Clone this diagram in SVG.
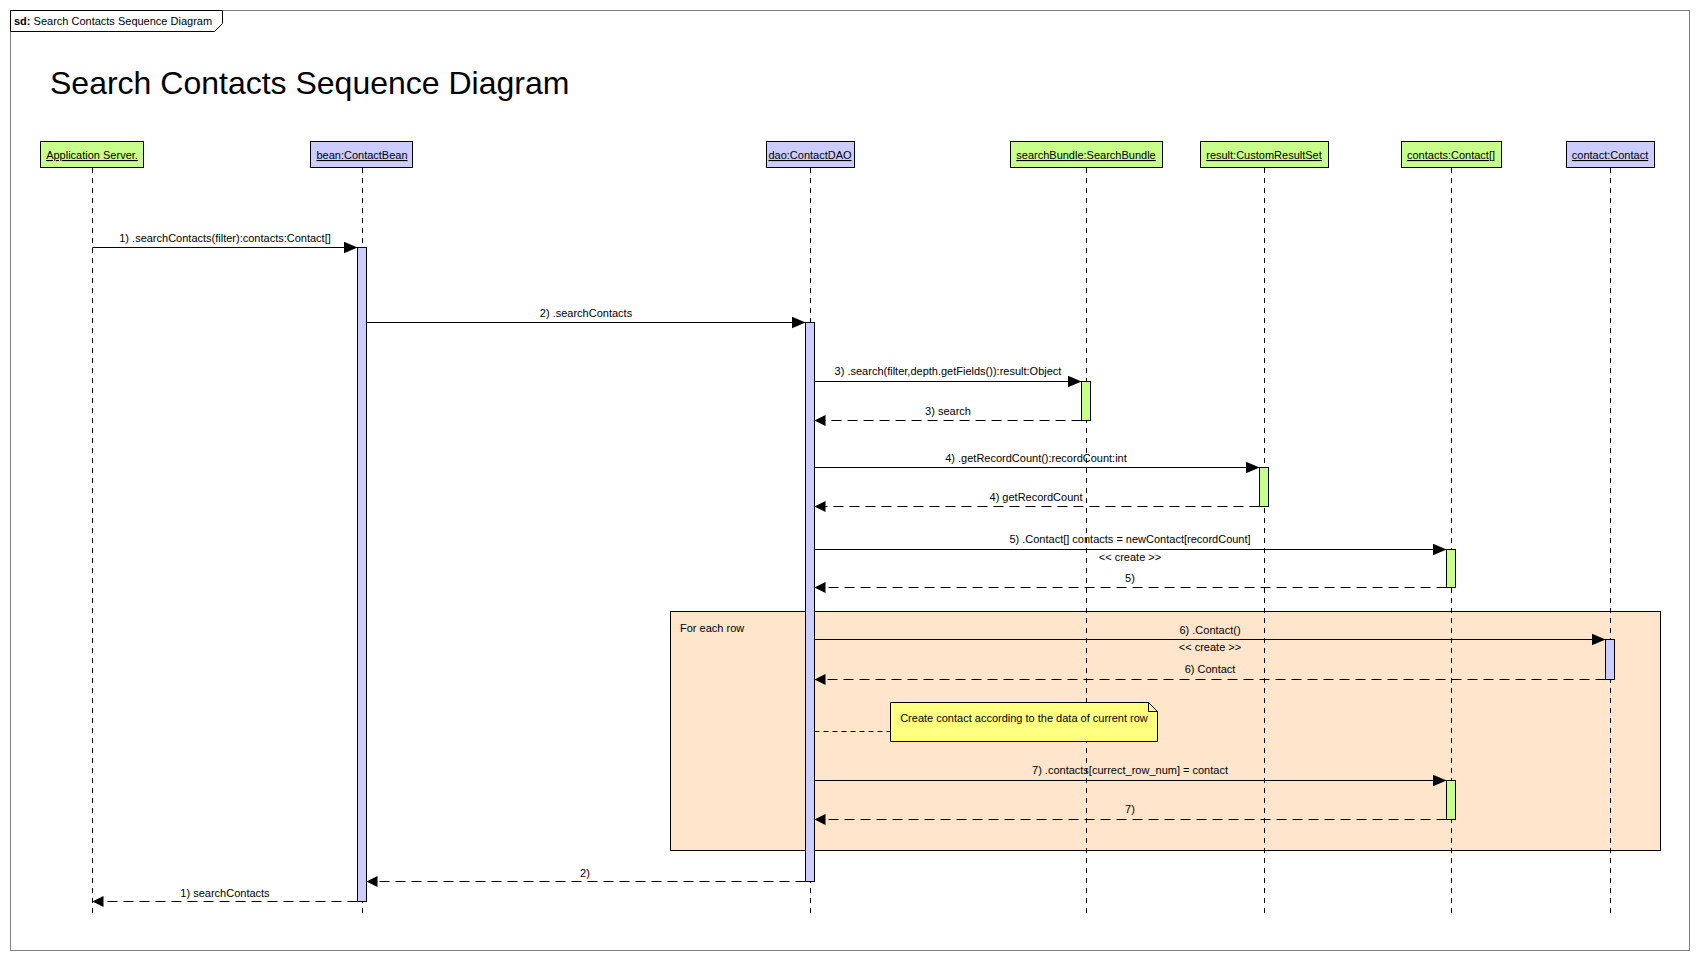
<svg xmlns="http://www.w3.org/2000/svg" width="1701" height="961" viewBox="0 0 1701 961">
  <style>
    text { font-family: "Liberation Sans", Arial, sans-serif; font-size: 11px; fill: #000; }
    .title { font-size: 32px; }
    .lbl { text-anchor: middle; }
    .pname { text-anchor: middle; text-decoration: underline; }
    .part-green { fill: #C8FF8C; stroke: #000; stroke-width: 1; }
    .part-blue { fill: #CCCCFF; stroke: #000; stroke-width: 1; }
    .life { stroke: #000; stroke-width: 1; stroke-dasharray: 5 5; fill: none; }
    .act-blue { fill: #CCCCFF; stroke: #000; stroke-width: 1; }
    .act-green { fill: #C8FF8C; stroke: #000; stroke-width: 1; }
    .call { stroke: #000; stroke-width: 1; fill: none; marker-end: url(#callHead); }
    .ret { stroke: #000; stroke-width: 1; fill: none; stroke-dasharray: 10 6; marker-end: url(#retHead); }
    .anchor { stroke: #000; stroke-width: 1; stroke-dasharray: 5 4; fill: none; }
  </style>
  <defs>
    <marker id="callHead" markerWidth="14" markerHeight="12" refX="14" refY="6" orient="auto" markerUnits="userSpaceOnUse">
      <path d="M0,0 L14,6 L0,12 Z" fill="#000"/>
    </marker>
    <marker id="retHead" markerWidth="11" markerHeight="11" refX="11" refY="5.5" orient="auto" markerUnits="userSpaceOnUse">
      <path d="M0,0 L11,5.5 L0,11 Z" fill="#000"/>
    </marker>
  </defs>

  <!-- background and sd frame -->
  <rect x="0" y="0" width="1701" height="961" fill="#fff"/>
  <rect x="10.5" y="10.5" width="1679" height="940" fill="#fff" stroke="#808080" stroke-width="1"/>
  <g id="frame-tab">
    <polygon points="10.5,10.5 222.5,10.5 222.5,23.5 214.5,31.5 10.5,31.5" fill="#fff" stroke="#000" stroke-width="1"/>
    <text x="14" y="25"><tspan font-weight="bold">sd:</tspan> Search Contacts Sequence Diagram</text>
  </g>
  <text class="title" x="50" y="94">Search Contacts Sequence Diagram</text>

  <!-- loop fragment -->
  <g id="loop-each-row">
    <rect x="670.5" y="611.5" width="990" height="239" fill="#FFE5CC" stroke="#000" stroke-width="1"/>
    <text x="680" y="632">For each row</text>
  </g>

  <!-- lifelines -->
  <g id="lifelines">
    <line class="life" x1="92.5" y1="168" x2="92.5" y2="918"/>
    <line class="life" x1="362.5" y1="168" x2="362.5" y2="918"/>
    <line class="life" x1="810.5" y1="168" x2="810.5" y2="918"/>
    <line class="life" x1="1086.5" y1="168" x2="1086.5" y2="918"/>
    <line class="life" x1="1264.5" y1="168" x2="1264.5" y2="918"/>
    <line class="life" x1="1451.5" y1="168" x2="1451.5" y2="918"/>
    <line class="life" x1="1610.5" y1="168" x2="1610.5" y2="918"/>
  </g>

  <!-- note -->
  <g id="note-create-contact">
    <path d="M890.5,702.5 L1148.5,702.5 L1157.5,711.5 L1157.5,741.5 L890.5,741.5 Z" fill="#FFFF80" stroke="#000" stroke-width="1"/>
    <path d="M1148.5,702.5 L1148.5,711.5 L1157.5,711.5" fill="none" stroke="#000" stroke-width="1"/>
    <text x="1024" y="722" class="lbl">Create contact according to the data of current row</text>
  </g>

  <!-- messages -->
  <g id="connectors">
    <line class="call" x1="92.5" y1="247.5" x2="357.5" y2="247.5"/>
    <text class="lbl" x="225" y="242">1) .searchContacts(filter):contacts:Contact[]</text>

    <line class="call" x1="366.5" y1="322.5" x2="805.5" y2="322.5"/>
    <text class="lbl" x="586" y="317">2) .searchContacts</text>

    <line class="call" x1="814.5" y1="381.5" x2="1081.5" y2="381.5"/>
    <text class="lbl" x="948" y="375">3) .search(filter,depth.getFields()):result:Object</text>

    <line class="ret" x1="1081.5" y1="420.5" x2="814.5" y2="420.5"/>
    <text class="lbl" x="948" y="415">3) search</text>

    <line class="call" x1="814.5" y1="467.5" x2="1259.5" y2="467.5"/>
    <text class="lbl" x="1036" y="462">4) .getRecordCount():recordCount:int</text>

    <line class="ret" x1="1259.5" y1="506.5" x2="814.5" y2="506.5"/>
    <text class="lbl" x="1036" y="501">4) getRecordCount</text>

    <line class="call" x1="814.5" y1="549.5" x2="1446.5" y2="549.5"/>
    <text class="lbl" x="1130" y="543">5) .Contact[] contacts = newContact[recordCount]</text>
    <text class="lbl" x="1130" y="561">&lt;&lt; create &gt;&gt;</text>

    <line class="ret" x1="1446.5" y1="587.5" x2="814.5" y2="587.5"/>
    <text class="lbl" x="1130" y="582">5)</text>

    <line class="call" x1="814.5" y1="639.5" x2="1605.5" y2="639.5"/>
    <text class="lbl" x="1210" y="634">6) .Contact()</text>
    <text class="lbl" x="1210" y="651">&lt;&lt; create &gt;&gt;</text>

    <line class="ret" x1="1605.5" y1="679.5" x2="814.5" y2="679.5"/>
    <text class="lbl" x="1210" y="673">6) Contact</text>

    <line class="anchor" x1="814.5" y1="731.5" x2="890.5" y2="731.5"/>

    <line class="call" x1="814.5" y1="780.5" x2="1446.5" y2="780.5"/>
    <text class="lbl" x="1130" y="774">7) .contacts[currect_row_num] = contact</text>

    <line class="ret" x1="1446.5" y1="819.5" x2="814.5" y2="819.5"/>
    <text class="lbl" x="1130" y="813">7)</text>

    <line class="ret" x1="805.5" y1="881.5" x2="366.5" y2="881.5"/>
    <text class="lbl" x="585" y="877">2)</text>

    <line class="ret" x1="357.5" y1="901.5" x2="92.5" y2="901.5"/>
    <text class="lbl" x="225" y="897">1) searchContacts</text>
  </g>

  <!-- activations -->
  <g id="activations">
    <rect class="act-blue" x="357.5" y="247.5" width="9" height="654"/>
    <rect class="act-blue" x="805.5" y="322.5" width="9" height="559"/>
    <rect class="act-green" x="1081.5" y="381.5" width="9" height="39"/>
    <rect class="act-green" x="1259.5" y="467.5" width="9" height="39"/>
    <rect class="act-green" x="1446.5" y="549.5" width="9" height="38"/>
    <rect class="act-blue" x="1605.5" y="639.5" width="9" height="40"/>
    <rect class="act-green" x="1446.5" y="780.5" width="9" height="39"/>
  </g>

  <!-- participants -->
  <g id="app-server">
    <rect class="part-green" x="40.5" y="141.5" width="103" height="26"/>
    <text class="pname" x="92" y="159">Application Server.</text>
  </g>
  <g id="bean">
    <rect class="part-blue" x="310.5" y="141.5" width="102" height="26"/>
    <text class="pname" x="362" y="159">bean:ContactBean</text>
  </g>
  <g id="dao">
    <rect class="part-blue" x="766.5" y="141.5" width="88" height="26"/>
    <text class="pname" x="810" y="159">dao:ContactDAO</text>
  </g>
  <g id="search-bundle">
    <rect class="part-green" x="1010.5" y="141.5" width="152" height="26"/>
    <text class="pname" x="1086" y="159">searchBundle:SearchBundle</text>
  </g>
  <g id="result">
    <rect class="part-green" x="1200.5" y="141.5" width="128" height="26"/>
    <text class="pname" x="1264" y="159">result:CustomResultSet</text>
  </g>
  <g id="contacts">
    <rect class="part-green" x="1401.5" y="141.5" width="100" height="26"/>
    <text class="pname" x="1451" y="159">contacts:Contact[]</text>
  </g>
  <g id="contact">
    <rect class="part-blue" x="1566.5" y="141.5" width="88" height="26"/>
    <text class="pname" x="1610" y="159">contact:Contact</text>
  </g>
</svg>
